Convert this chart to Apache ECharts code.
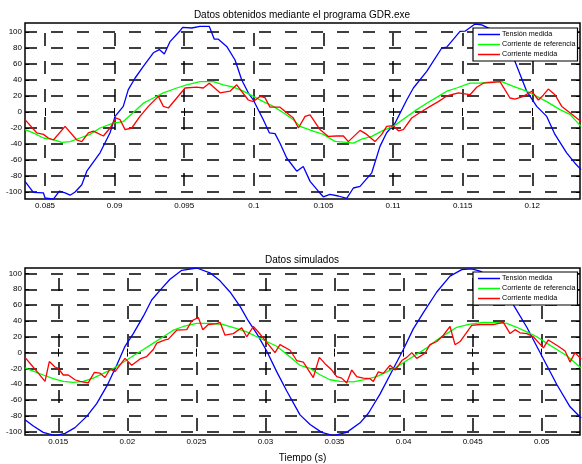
<!DOCTYPE html>
<html>
<head>
<meta charset="utf-8">
<script src="https://cdn.jsdelivr.net/npm/echarts@6/dist/echarts.min.js"></script>
<style>html,body{margin:0;padding:0;background:#fff}#c{width:582px;height:464px}</style>
</head>
<body>
<div id="c"></div>
<script>
// ---- Data (time in s, values) ----
const topTitle = 'Datos obtenidos mediante el programa GDR.exe';
const bottomTitle = 'Datos simulados';
const seriesNames = ['Tensión medida', 'Corriente de referencia', 'Corriente medida'];
const xLabel = 'Tiempo (s)';

const topXTicks = [0.085, 0.09, 0.095, 0.1, 0.105, 0.11, 0.115, 0.12];
const bottomXTicks = [0.015, 0.02, 0.025, 0.03, 0.035, 0.04, 0.045, 0.05];
const yTicks = [-100, -80, -60, -40, -20, 0, 20, 40, 60, 80, 100];
const topXRange = [0.08356, 0.12343];
const bottomXRange = [0.01259, 0.05277];
const topYRange = [-108.75, 111.25];
const bottomYRange = [-104.1, 106.9];

const topTension = [[0.08356,-86.7],[0.08416,-100.5],[0.08488,-101],[0.08500,-107.5],[0.08560,-108.8],[0.08603,-99],[0.08644,-101],[0.08680,-104],[0.08716,-100],[0.08764,-91],[0.08800,-74],[0.08895,-51],[0.08967,-26],[0.09003,-5.5],[0.09062,7],[0.09098,28],[0.09147,42.5],[0.09206,57],[0.09278,74],[0.09321,78],[0.09357,72.5],[0.09398,88],[0.09470,101.6],[0.09489,105.8],[0.09554,105],[0.09613,107],[0.09680,107],[0.09716,91],[0.09745,91],[0.09805,82],[0.09865,65],[0.09913,40],[0.09960,24],[0.09996,15],[0.10068,-9.6],[0.10111,-26],[0.10152,-27],[0.10188,-39],[0.10236,-57.5],[0.10308,-74],[0.10355,-68],[0.10404,-86.7],[0.10463,-99],[0.10499,-106],[0.10547,-103],[0.10607,-105],[0.10667,-108],[0.10715,-95],[0.10763,-93],[0.10847,-76],[0.10906,-43],[0.10954,-26],[0.11014,-14],[0.11098,15],[0.11146,30],[0.11242,50.7],[0.11350,80],[0.11386,81],[0.11481,100.7],[0.11517,101],[0.11589,110],[0.11637,109],[0.11697,104],[0.11768,92],[0.11826,78],[0.11876,63],[0.11960,26],[0.12032,7],[0.12104,-5.5],[0.12163,-28],[0.12247,-51],[0.12307,-64],[0.12350,-72]];

const topReference = [[0.08356,-22],[0.08416,-26],[0.08488,-32.5],[0.08560,-34.6],[0.08620,-38],[0.08680,-37],[0.08751,-32.5],[0.08823,-28],[0.08895,-20],[0.08991,-14],[0.09062,-12],[0.09134,-0.7],[0.09206,11],[0.09278,17.5],[0.09350,24],[0.09446,30],[0.09518,34],[0.09613,38],[0.09709,38],[0.09781,34],[0.09853,31],[0.09924,26],[0.09996,19.5],[0.10068,13],[0.10140,7],[0.10212,-1],[0.10284,-9.6],[0.10332,-18],[0.10427,-24],[0.10499,-28],[0.10583,-36.7],[0.10667,-38],[0.10715,-39],[0.10775,-34],[0.10847,-30.5],[0.10919,-24],[0.11002,-18],[0.11086,-7.5],[0.11170,3],[0.11242,11],[0.11325,19.5],[0.11386,26],[0.11457,30],[0.11553,36],[0.11625,36],[0.11720,38],[0.11781,38],[0.11864,32],[0.11960,26],[0.12032,19.5],[0.12104,13],[0.12199,3],[0.12271,-3],[0.12350,-18]];

const topMeasured = [[0.08356,-9.6],[0.08440,-26],[0.08488,-28],[0.08524,-32.5],[0.08560,-35],[0.08644,-18],[0.08728,-35],[0.08764,-37],[0.08811,-26],[0.08847,-24],[0.08919,-30],[0.08967,-20],[0.09010,-7.5],[0.09039,-9.6],[0.09075,-22],[0.09123,-20],[0.09182,-5.5],[0.09242,7],[0.09314,19.5],[0.09350,7],[0.09386,5],[0.09446,17.5],[0.09506,30],[0.09590,31],[0.09637,30],[0.09680,36],[0.09757,24],[0.09829,26],[0.09877,34],[0.09960,15],[0.09996,13],[0.10044,19.5],[0.10080,18],[0.10116,6],[0.10188,6],[0.10236,-1],[0.10284,-7.5],[0.10320,-20],[0.10368,-5.5],[0.10404,-3.5],[0.10475,-22],[0.10535,-30.5],[0.10595,-30],[0.10643,-30],[0.10679,-37],[0.10763,-23],[0.10811,-28],[0.10870,-37],[0.10919,-28],[0.10954,-18],[0.11002,-17],[0.11038,-23.5],[0.11074,-22],[0.11134,-7.5],[0.11194,-0.7],[0.11266,7],[0.11325,13],[0.11386,20],[0.11469,24],[0.11553,21.6],[0.11601,31],[0.11648,36],[0.11720,37],[0.11768,38],[0.11840,17.5],[0.11876,16],[0.11936,19.5],[0.11996,26],[0.12044,15],[0.12079,21],[0.12115,28.6],[0.12163,21.6],[0.12212,7],[0.12271,-1],[0.12350,-12]];

const bottomTension = [[0.01259,-84.7],[0.01319,-92.7],[0.01391,-100.8],[0.01476,-104.8],[0.01549,-102],[0.01621,-94.8],[0.01706,-80.6],[0.01778,-64.5],[0.01851,-42.4],[0.01923,-16],[0.01983,8],[0.02043,24],[0.02116,46],[0.02176,66.5],[0.02236,78.6],[0.02309,92.7],[0.02394,104],[0.02502,106.9],[0.02598,100.8],[0.02671,90.7],[0.02743,76.6],[0.02816,58.5],[0.02876,40],[0.02937,24],[0.03009,2],[0.03081,-24],[0.03154,-48.5],[0.03250,-78.7],[0.03323,-90.8],[0.03407,-100.8],[0.03491,-104.8],[0.03588,-100.8],[0.03685,-88.7],[0.03745,-76.6],[0.03829,-52.4],[0.03926,-20],[0.03998,4],[0.04070,30],[0.04143,50.4],[0.04240,76.6],[0.04336,96.7],[0.04421,104.8],[0.04493,105.7],[0.04553,103],[0.04626,96],[0.04698,84],[0.04749,72],[0.04795,60.4],[0.04892,32],[0.04964,8],[0.05036,-16],[0.05109,-40.3],[0.05205,-68.5],[0.05285,-82.7]];

const bottomReference = [[0.01259,-19.4],[0.01319,-23.4],[0.01391,-28.3],[0.01464,-33],[0.01536,-36.4],[0.01609,-37.5],[0.01681,-36.4],[0.01753,-32.2],[0.01826,-26.2],[0.01898,-20.1],[0.01971,-12.1],[0.02043,-4],[0.02116,4],[0.02188,12],[0.02260,20],[0.02333,28.3],[0.02405,33],[0.02502,37],[0.02598,37],[0.02695,35.5],[0.02792,30.2],[0.02864,26.2],[0.02937,20],[0.03009,14],[0.03081,8],[0.03154,-2],[0.03250,-16],[0.03323,-20],[0.03395,-28],[0.03467,-34.3],[0.03540,-36.4],[0.03636,-37],[0.03733,-33.5],[0.03805,-30.3],[0.03878,-24.3],[0.03950,-18.2],[0.04023,-10],[0.04095,-2],[0.04168,6],[0.04240,16],[0.04312,24],[0.04385,32],[0.04481,36],[0.04577,38.3],[0.04674,38],[0.04747,37],[0.04819,32],[0.04892,26.2],[0.04964,20],[0.05036,12],[0.05109,4],[0.05181,-4],[0.05285,-19.4]];

const bottomMeasured = [[0.01259,-6],[0.01307,-16],[0.01355,-26],[0.01404,-36.4],[0.01435,-11.3],[0.01476,-18.2],[0.01500,-20],[0.01536,-28.3],[0.01572,-28.3],[0.01621,-34.3],[0.01657,-36.4],[0.01717,-38.3],[0.01761,-25],[0.01802,-26],[0.01838,-31.5],[0.01874,-21],[0.01911,-24],[0.01983,-7.3],[0.02032,-16],[0.02092,-8],[0.02140,-5],[0.02188,4],[0.02213,12],[0.02273,16],[0.02297,17],[0.02357,28.3],[0.02430,29],[0.02466,40],[0.02514,44.3],[0.02546,29],[0.02586,35.5],[0.02647,36.5],[0.02671,38.3],[0.02707,22],[0.02767,24],[0.02828,31.4],[0.02864,20],[0.02912,33],[0.02948,26],[0.03009,12.9],[0.03069,0],[0.03105,10],[0.03178,3],[0.03226,-10],[0.03274,-12],[0.03346,-31.5],[0.03390,-6],[0.03431,-14],[0.03480,-22],[0.03516,-30.3],[0.03552,-32.2],[0.03588,-38.3],[0.03624,-22],[0.03661,-30.3],[0.03708,-32.2],[0.03757,-33],[0.03781,-36.4],[0.03817,-24.3],[0.03853,-26.2],[0.03902,-16],[0.03938,-22],[0.03987,-10],[0.04023,-6],[0.04059,0],[0.04095,-7.3],[0.04155,-0.8],[0.04191,10],[0.04240,14],[0.04288,22],[0.04336,33],[0.04372,10],[0.04409,14],[0.04493,34.3],[0.04553,35.5],[0.04650,35.5],[0.04722,38.3],[0.04771,24],[0.04807,29],[0.04843,25],[0.04892,24],[0.04939,20],[0.05012,6],[0.05048,16],[0.05120,8],[0.05169,2],[0.05205,-12],[0.05241,0],[0.05285,-8]];

// ---- Chart ----
const FONT = '"Liberation Sans", Arial, Helvetica, sans-serif';
const colors = ['#0000ff', '#00ff00', '#ff0000'];
const chart = echarts.init(document.getElementById('c'), null, {renderer: 'canvas'});

const grids = [
  {left: 25, top: 23, width: 555, height: 176},
  {left: 25, top: 268, width: 555, height: 175}
].map(g => Object.assign(g, {show: true, backgroundColor: '#fff', borderColor: '#000', borderWidth: 1.5, containLabel: false}));

function mainX(gi, range, ticks, withName) {
  const ax = {
    type: 'value', gridIndex: gi, position: 'bottom', min: range[0], max: range[1],
    axisLine: {show: false},
    axisTick: {show: true, inside: true, length: 4, customValues: ticks, lineStyle: {color: '#000', width: 1}},
    axisLabel: {show: true, customValues: ticks, margin: 3, fontSize: 8, fontFamily: FONT, color: '#000',
      showMinLabel: true, showMaxLabel: true},
    splitLine: {show: true, lineStyle: {color: '#000', width: 1.5, type: [13, 15], dashOffset: 18}}
  };
  if (withName) {
    ax.name = xLabel; ax.nameLocation = 'middle'; ax.nameGap = 18;
    ax.nameTextStyle = {fontSize: 10, fontFamily: FONT, color: '#000'};
  }
  return ax;
}
function topX(gi, range, ticks) {
  return {type: 'value', gridIndex: gi, position: 'top', min: range[0], max: range[1],
    axisLine: {show: false}, axisLabel: {show: false}, splitLine: {show: false},
    axisTick: {show: true, inside: true, length: 4, customValues: ticks, lineStyle: {color: '#000'}}};
}
function mainY(gi, range) {
  return {
    type: 'value', gridIndex: gi, position: 'left', min: range[0], max: range[1],
    axisLine: {show: false},
    axisTick: {show: true, inside: true, length: 4, customValues: yTicks, lineStyle: {color: '#000'}},
    axisLabel: {show: true, customValues: yTicks, margin: 3, fontSize: 8, fontFamily: FONT, color: '#000'},
    splitLine: {show: true, lineStyle: {color: '#000', width: 1.5, type: [12, 14], dashOffset: 0}}
  };
}
function rightY(gi, range) {
  return {type: 'value', gridIndex: gi, position: 'right', min: range[0], max: range[1],
    axisLine: {show: false}, axisLabel: {show: false}, splitLine: {show: false},
    axisTick: {show: true, inside: true, length: 4, customValues: yTicks, lineStyle: {color: '#000'}}};
}

function line(name, data, xi, yi, color) {
  return {type: 'line', name: name, data: data, xAxisIndex: xi, yAxisIndex: yi,
    showSymbol: false, symbol: 'none', animation: false, clip: true,
    lineStyle: {color: color, width: 1.3}, itemStyle: {color: color}};
}

function legendAt(top) {
  return {
    data: seriesNames, left: 473, top: top, orient: 'vertical', selectedMode: false,
    icon: 'rect', backgroundColor: '#fff', borderColor: '#000', borderWidth: 1.2,
    padding: [2, 2, 2, 5], itemGap: 1, itemWidth: 22, itemHeight: 1.5,
    textStyle: {fontSize: 7.2, lineHeight: 9, fontFamily: FONT, color: '#000', padding: [0, 0, 0, -3]}
  };
}

chart.setOption({
  animation: false,
  backgroundColor: '#fff',
  title: [
    {text: topTitle, left: 302, top: 10, textAlign: 'center',
      textStyle: {fontSize: 10, fontWeight: 'normal', fontFamily: FONT, color: '#000'}, padding: 0},
    {text: bottomTitle, left: 302, top: 255, textAlign: 'center',
      textStyle: {fontSize: 10, fontWeight: 'normal', fontFamily: FONT, color: '#000'}, padding: 0}
  ],
  grid: grids,
  xAxis: [mainX(0, topXRange, topXTicks, false), topX(0, topXRange, topXTicks),
          mainX(1, bottomXRange, bottomXTicks, true), topX(1, bottomXRange, bottomXTicks)],
  yAxis: [mainY(0, topYRange), rightY(0, topYRange), mainY(1, bottomYRange), rightY(1, bottomYRange)],
  legend: [legendAt(28), legendAt(272)],
  series: [
    line(seriesNames[0], topTension, 0, 0, colors[0]),
    line(seriesNames[1], topReference, 0, 0, colors[1]),
    line(seriesNames[2], topMeasured, 0, 0, colors[2]),
    line(seriesNames[0], bottomTension, 2, 2, colors[0]),
    line(seriesNames[1], bottomReference, 2, 2, colors[1]),
    line(seriesNames[2], bottomMeasured, 2, 2, colors[2])
  ]
});
</script>
</body>
</html>
